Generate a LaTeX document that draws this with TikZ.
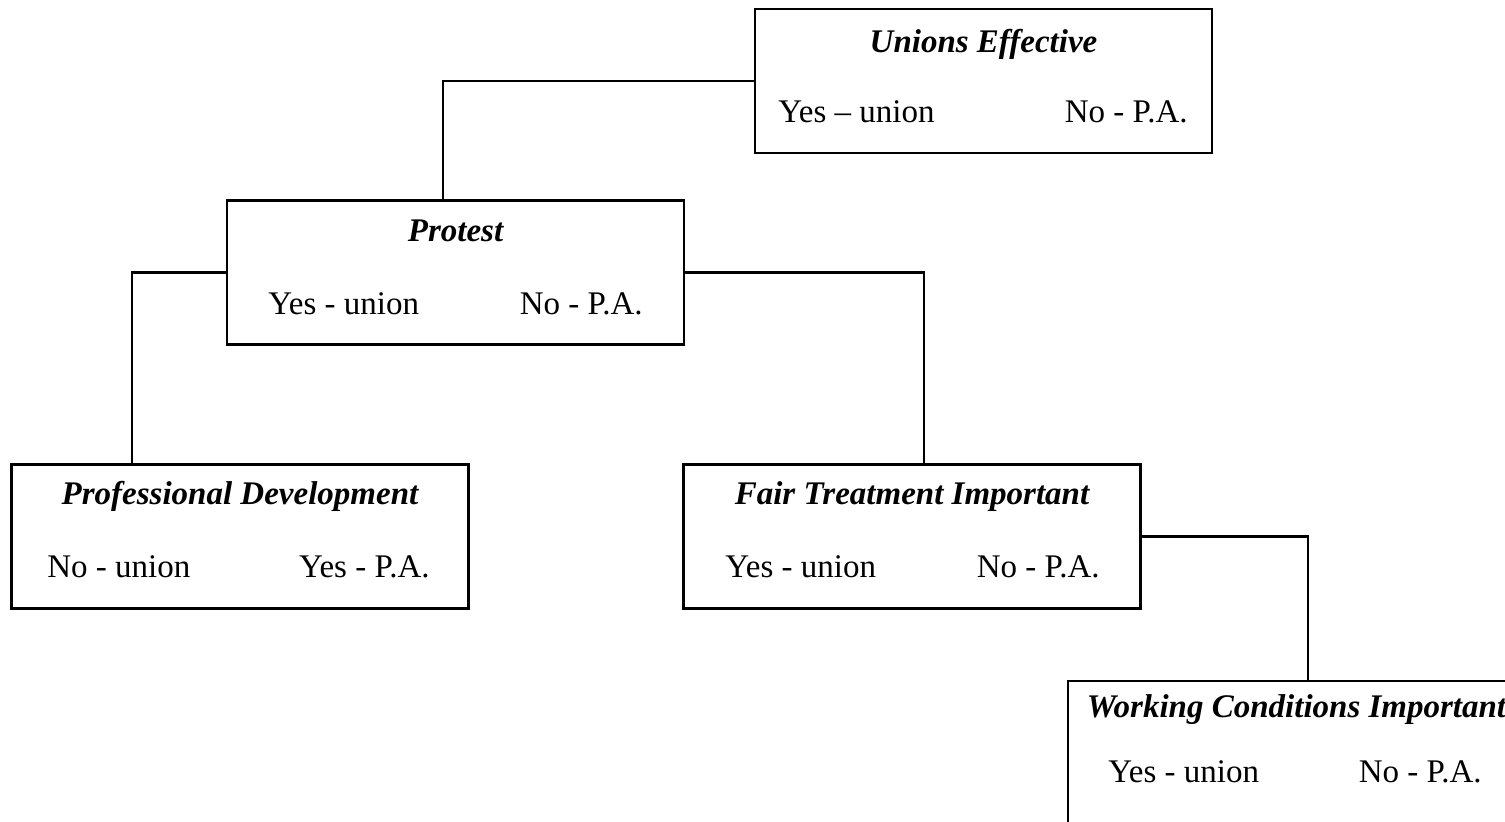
\documentclass[tikz,border=0pt]{standalone}
\usepackage{fontspec}
\setmainfont{Liberation Serif}
\begin{document}
\begin{tikzpicture}[x=0.5pt,y=-0.5pt,
  box/.style={draw, line width=1.1pt, minimum width=228.5pt, minimum height=72pt, inner sep=0pt},
  conn/.style={line width=1.1pt},
  ttl/.style={anchor=base, inner sep=0pt, font=\fontsize{16.5}{19}\selectfont\bfseries\itshape},
  lft/.style={anchor=base west, inner sep=0pt, font=\fontsize{16.5}{19}\selectfont},
  rgt/.style={anchor=base east, inner sep=0pt, font=\fontsize{16.5}{19}\selectfont}]
\clip (0,0) rectangle (1505,822);
% boxes
\node[box] (b1) at (983.5,81) {};
\node[box] (b2) at (455.5,272.5) {};
\node[box] (b3) at (240,536.5) {};
\node[box] (b4) at (912,536.5) {};
\node[box] (b5) at (1296.5,753) {};
% texts
\node[ttl] (t1) at (983.5,53) {Unions Effective};
\node[lft] (l1) at (778,123) {Yes – union};
\node[rgt] (r1) at (1188,123) {No - P.A.};
\node[ttl] (t2) at (455.5,242) {Protest};
\node[lft] (l2) at (268,315) {Yes - union};
\node[rgt] (r2) at (643,315) {No - P.A.};
\node[ttl] (t3) at (240,505) {Professional Development};
\node[lft] (l3) at (47,578) {No - union};
\node[rgt] (r3) at (430,578) {Yes - P.A.};
\node[ttl] (t4) at (912,505) {Fair Treatment Important};
\node[lft] (l4) at (725,578) {Yes - union};
\node[rgt] (r4) at (1100,578) {No - P.A.};
\node[ttl] (t5) at (1296.5,718) {Working Conditions Important};
\node[lft] (l5) at (1108,783) {Yes - union};
\node[rgt] (r5) at (1482,783) {No - P.A.};
% connectors
\draw[conn] (b1.west) -| ([xshift=-6.25pt]b2.north);
\draw[conn] (b2.west) -| ([xshift=-54pt]b3.north);
\draw[conn] (b2.east) -| ([xshift=6pt]b4.north);
\draw[conn] (b4.east) -| ([xshift=5.75pt]b5.north);
\end{tikzpicture}
\end{document}
